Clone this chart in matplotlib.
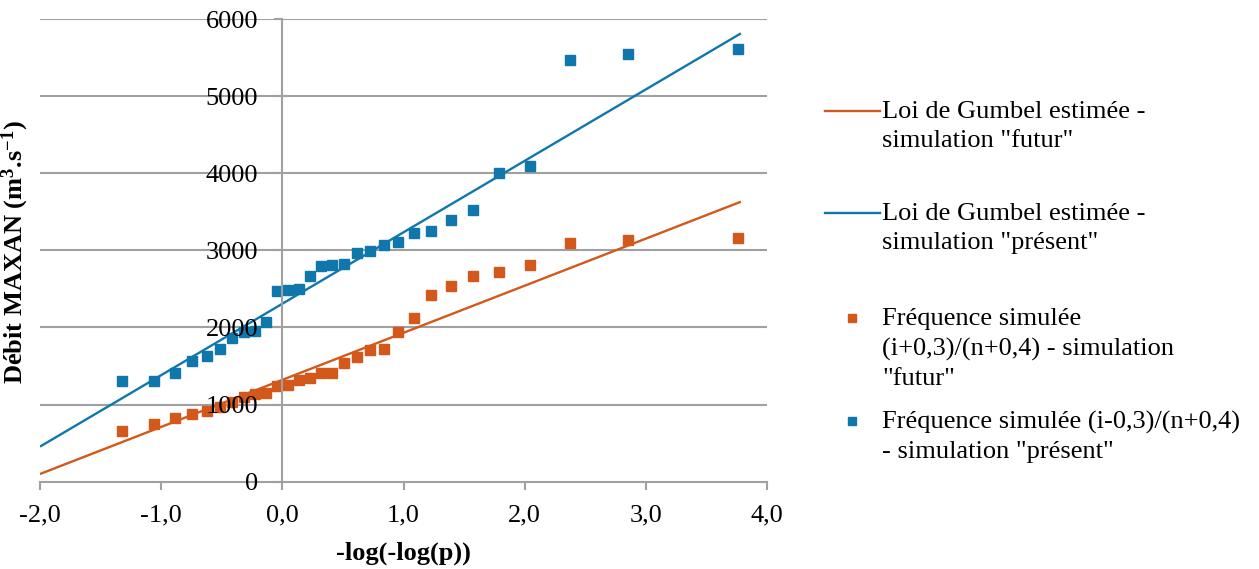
import matplotlib
matplotlib.use("Agg")
import matplotlib.pyplot as plt
from matplotlib.lines import Line2D
from matplotlib.ticker import FixedLocator, FuncFormatter

plt.rcParams['font.family'] = ['Liberation Serif', 'DejaVu Serif']
plt.rcParams['mathtext.fontset'] = 'custom'
plt.rcParams['mathtext.rm'] = 'Liberation Serif:bold'
plt.rcParams['mathtext.it'] = 'Liberation Serif:bold'
plt.rcParams['mathtext.bf'] = 'Liberation Serif:bold'

# Gumbel reduced variate -log(-log(p)) of each ranked year (n = 30)
reduced_variate = [-1.327, -1.059, -0.884, -0.745, -0.624, -0.515, -0.414, -0.317,
                   -0.224, -0.133, -0.043, 0.046, 0.136, 0.227, 0.319, 0.414,
                   0.513, 0.615, 0.722, 0.835, 0.956, 1.087, 1.231, 1.390,
                   1.572, 1.785, 2.042, 2.375, 2.855, 3.759]

# Ranked annual maximum discharges (m3/s)
maxan_futur = [658, 745, 831, 875, 922, 975, 1030, 1100, 1140, 1150,
               1235, 1256, 1315, 1340, 1408, 1416, 1537, 1623, 1712, 1725,
               1937, 2124, 2420, 2537, 2662, 2718, 2814, 3095, 3134, 3160]
maxan_present = [1300, 1310, 1416, 1571, 1632, 1719, 1865, 1945, 1960, 2075,
                 2468, 2490, 2499, 2671, 2792, 2814, 2823, 2966, 2987, 3069,
                 3104, 3221, 3250, 3394, 3519, 4000, 4095, 5474, 5543, 5617]

# Fitted Gumbel laws evaluated over the plotted range
fit_x = [-2.0, 3.785]
fit_futur = [100, 3631]
fit_present = [455, 5814]

x_ticks = [-2, -1, 0, 1, 2, 3, 4]
y_ticks = [0, 1000, 2000, 3000, 4000, 5000, 6000]

BLUE = '#1077AC'
ORANGE = '#D2581C'
GRID = '#A0A0A0'
FS = 19

W, H = 1259, 569
fig = plt.figure(figsize=(W / 100, H / 100), dpi=100)
ax = fig.add_axes([40 / W, 1 - 481.7 / H, (767 - 40) / W, (481.7 - 19) / H])

for yv in y_ticks[1:]:
    ax.axhline(yv, color=GRID, lw=1.5, zorder=0.5)

ax.plot(fit_x, fit_futur, color=ORANGE, lw=1.7, zorder=2, solid_capstyle='butt')
ax.plot(fit_x, fit_present, color=BLUE, lw=1.7, zorder=2, solid_capstyle='butt')
ax.plot(reduced_variate, maxan_futur, ls='none', marker='s', ms=7.5,
        color=ORANGE, mec=ORANGE, zorder=2.2)
ax.plot(reduced_variate, maxan_present, ls='none', marker='s', ms=7.5,
        color=BLUE, mec=BLUE, zorder=2.2)

ax.set_xlim(-2, 4)
ax.set_ylim(0, 6000)
ax.set_axisbelow(False)

for side in ('top', 'right'):
    ax.spines[side].set_visible(False)
ax.spines['left'].set_position(('data', 0))
for side in ('left', 'bottom'):
    ax.spines[side].set_color(GRID)
    ax.spines[side].set_linewidth(1.5)

ax.xaxis.set_major_locator(FixedLocator(x_ticks))
ax.xaxis.set_major_formatter(FuncFormatter(lambda v, p: f"{v:.1f}".replace('.', ',')))
ax.yaxis.set_major_locator(FixedLocator(y_ticks))
ax.yaxis.set_major_formatter(FuncFormatter(lambda v, p: f"{int(v)}"))
ax.tick_params(axis='x', direction='out', length=5.5, width=1.5, color=GRID,
               labelsize=FS, pad=11)
ax.tick_params(axis='y', direction='out', length=5.5, width=1.5, color=GRID,
               labelsize=FS, pad=12)
ax.tick_params(which='minor', length=0)

fig.text(15 / W, 1 - 252 / H, r"Débit MAXAN (m$^{3}$.s$^{-1}$)", rotation=90,
         ha='center', va='center', fontsize=FS, fontweight='bold')
fig.text(403 / W, 1 - 553 / H, "-log(-log(p))", ha='center', va='center',
         fontsize=FS, fontweight='bold')

# Legend drawn in figure coordinates
def fy(py):
    return 1 - py / H

entries = [
    ('line', ORANGE, 111, "Loi de Gumbel estimée -\nsimulation \"futur\""),
    ('line', BLUE, 213, "Loi de Gumbel estimée -\nsimulation \"présent\""),
    ('marker', ORANGE, 318, "Fréquence simulée\n(i+0,3)/(n+0,4) - simulation\n\"futur\""),
    ('marker', BLUE, 421, "Fréquence simulée (i-0,3)/(n+0,4)\n- simulation \"présent\""),
]
for kind, col, py, label in entries:
    if kind == 'line':
        fig.add_artist(Line2D([825 / W, 880 / W], [fy(py), fy(py)], color=col, lw=1.7))
    else:
        fig.add_artist(Line2D([852 / W], [fy(py)], ls='none', marker='s', ms=6,
                              color=col, mec=col))
    fig.text(882 / W, fy(py - 10), label, ha='left', va='top', fontsize=FS,
             linespacing=1.42)

fig.savefig("out.png", dpi=100)
